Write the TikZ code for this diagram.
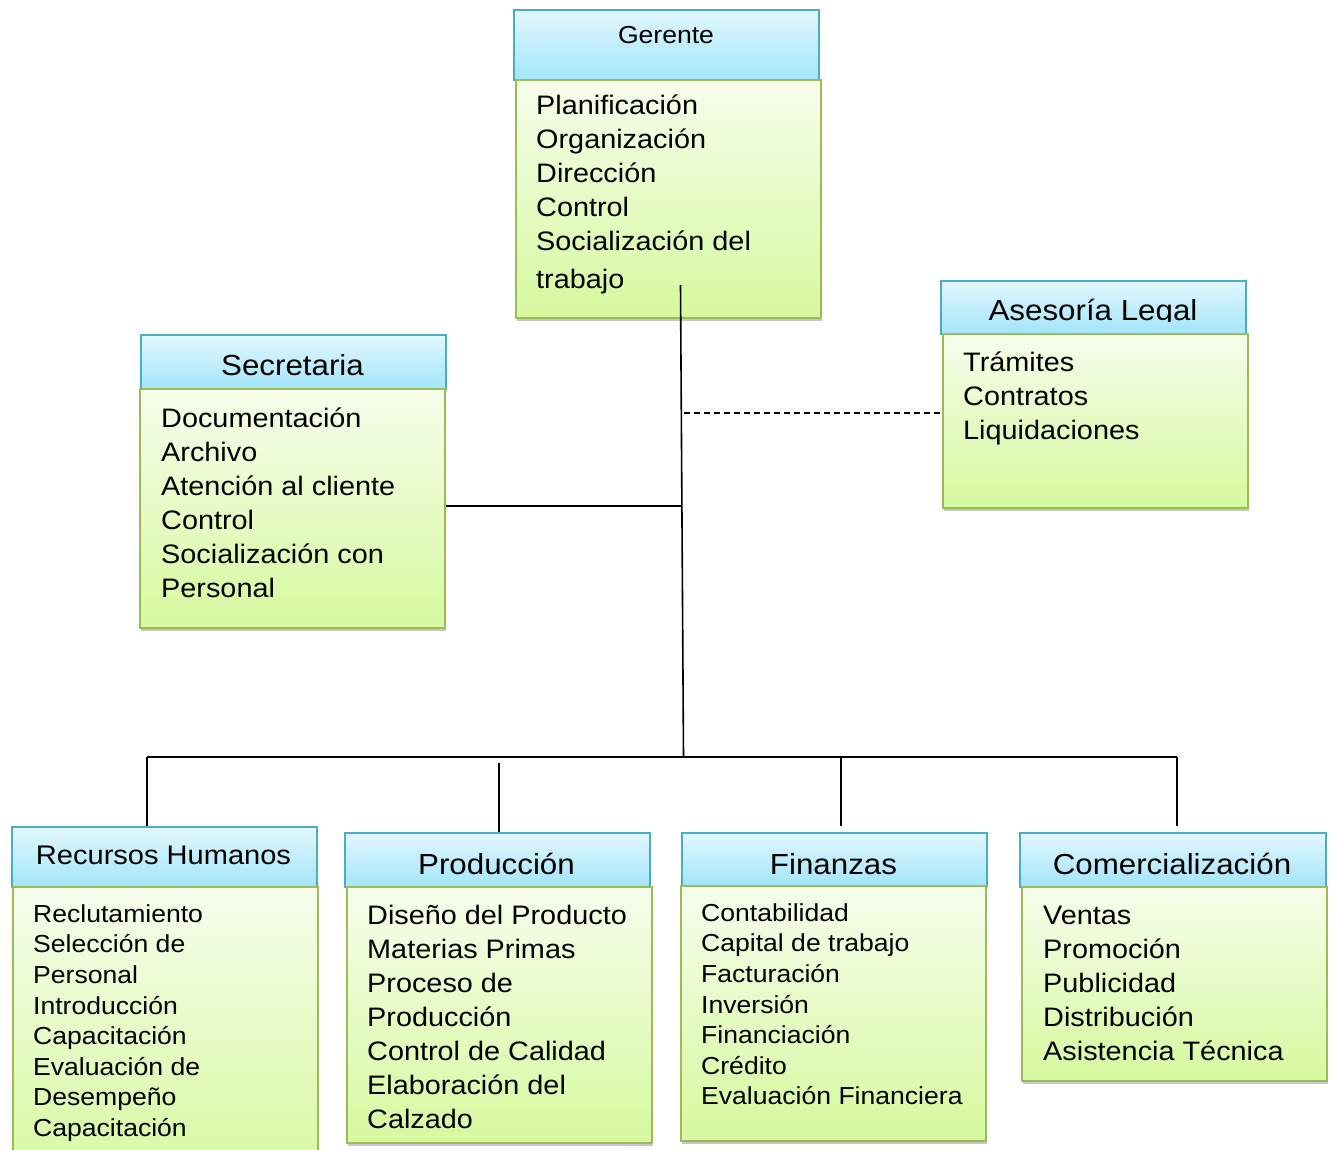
\documentclass[tikz,border=0pt]{standalone}
\usepackage{fontspec}
\setmainfont{Liberation Sans}[FakeStretch=1.08]
\usetikzlibrary{shadows}
\definecolor{hdrTop}{RGB}{226,247,253}
\definecolor{hdrBot}{RGB}{163,229,250}
\definecolor{hdrLine}{RGB}{75,172,198}
\definecolor{bodyTop}{RGB}{246,253,236}
\definecolor{bodyBot}{RGB}{214,249,158}
\definecolor{bodyLine}{RGB}{155,187,89}
\begin{document}
\begin{tikzpicture}[x=1pt,y=-1pt,
  box/.style={anchor=north west, inner sep=0pt, line width=1.6pt,
    drop shadow={shadow xshift=1.5pt, shadow yshift=-3pt, opacity=0.22, fill=black}},
  hdr/.style={box, draw=hdrLine, top color=hdrTop, bottom color=hdrBot},
  bodybox/.style={box, draw=bodyLine, top color=bodyTop, bottom color=bodyBot},
  title/.style={anchor=base, inner sep=0pt, font=\fontsize{29}{34}\selectfont},
  items/.style={anchor=north west, inner sep=0pt, align=left,
    font=\fontsize{26.7}{34}\selectfont},
  smallitems/.style={anchor=north west, inner sep=0pt, align=left,
    font=\fontsize{24.6}{30.6}\selectfont},
  link/.style={line width=1.6pt, black},
]
\useasboundingbox[fill=white] (0,0) rectangle (1331,1149);

% --- Gerente ---
\node[hdr, minimum width=305pt, minimum height=70pt] (gh) at (513,9) {};
\node[bodybox, minimum width=305pt, minimum height=238pt] (gb) at (515,79) {};
\node[title, font=\fontsize{24.6}{30}\selectfont] (gt) at (666,43) {Gerente};
\node[items] (gi) at (536,92) {\rule{0pt}{22pt}Planificación\\Organización\\Dirección\\Control\\Socialización del\\[4pt]trabajo};

% --- Asesoría Legal ---
\node[hdr, minimum width=305pt, minimum height=53pt] (ah) at (940,280) {};
\node[bodybox, minimum width=305pt, minimum height=174pt] (ab) at (942,333) {};
\begin{scope}
  \clip (940,280) rectangle (1245,321);
  \node[title] (at) at (1093,320) {Asesoría Legal};
\end{scope}
\node[items] (ai) at (963,349) {\rule{0pt}{22pt}Trámites\\Contratos\\Liquidaciones};

% --- Secretaria ---
\node[hdr, minimum width=305pt, minimum height=54pt] (sh) at (140,334) {};
\node[bodybox, minimum width=305pt, minimum height=239pt] (sb) at (139,388) {};
\node[title] (st) at (292.5,375) {Secretaria};
\node[items] (si) at (161,405) {\rule{0pt}{22pt}Documentación\\Archivo\\Atención al cliente\\Control\\Socialización con\\Personal};

% --- Recursos Humanos ---
\node[hdr, minimum width=305pt, minimum height=60pt] (rh) at (11,826) {};
\node[bodybox, minimum width=305pt, minimum height=300pt] (rb) at (12,886) {};
\node[title, font=\fontsize{26.9}{32}\selectfont] (rt) at (163.5,864) {Recursos Humanos};
\node[smallitems] (ri) at (33,902) {\rule{0pt}{20pt}Reclutamiento\\Selección de\\Personal\\Introducción\\Capacitación\\Evaluación de\\Desempeño\\Capacitación};

% --- Producción ---
\node[hdr, minimum width=305pt, minimum height=54pt] (ph) at (344,832) {};
\node[bodybox, minimum width=305pt, minimum height=256pt] (pb) at (346,886) {};
\node[title] (pt) at (496.5,874) {Producción};
\node[items] (pi) at (367,902) {\rule{0pt}{22pt}Diseño del Producto\\Materias Primas\\Proceso de\\Producción\\Control de Calidad\\Elaboración del\\Calzado};

% --- Finanzas ---
\node[hdr, minimum width=305pt, minimum height=53pt] (fh) at (681,832) {};
\node[bodybox, minimum width=305pt, minimum height=255pt] (fb) at (680,885) {};
\node[title] (ft) at (833.5,874) {Finanzas};
\node[smallitems] (fi) at (701,901) {\rule{0pt}{20pt}Contabilidad\\Capital de trabajo\\Facturación\\Inversión\\Financiación\\Crédito\\Evaluación Financiera};

% --- Comercialización ---
\node[hdr, minimum width=306pt, minimum height=54pt] (ch) at (1019,832) {};
\node[bodybox, minimum width=305pt, minimum height=194pt] (cb) at (1021,886) {};
\node[title] (ct) at (1172,874) {Comercialización};
\node[items] (ci) at (1043,902) {\rule{0pt}{22pt}Ventas\\Promoción\\Publicidad\\Distribución\\Asistencia Técnica};

% --- connectors ---
\coordinate (stemtop) at (680.5,285);
\coordinate (stembot) at (683.5,757);
\coordinate (secjoin) at (682,506);
\coordinate (legjoin) at (684,413);
\coordinate (busL) at (147,757);
\coordinate (busR) at (1177,757);
\coordinate (dropP) at (499,763);
\coordinate (dropF) at (841,757);

\draw[link] (stemtop) -- (stembot);
\draw[link] (sb.east |- secjoin) -- (secjoin);
\draw[link, line width=1.5pt, dash pattern=on 6pt off 4pt] (legjoin) -- (ab.west |- legjoin);
\draw[link] (busL) -- (busR);
\draw[link] (busL) -- (busL |- rh.north);
\draw[link] (dropP) -- (dropP |- ph.north);
\draw[link] (dropF) -- ++(0,69);
\draw[link] (busR) -- ++(0,69);
\end{tikzpicture}
\end{document}
